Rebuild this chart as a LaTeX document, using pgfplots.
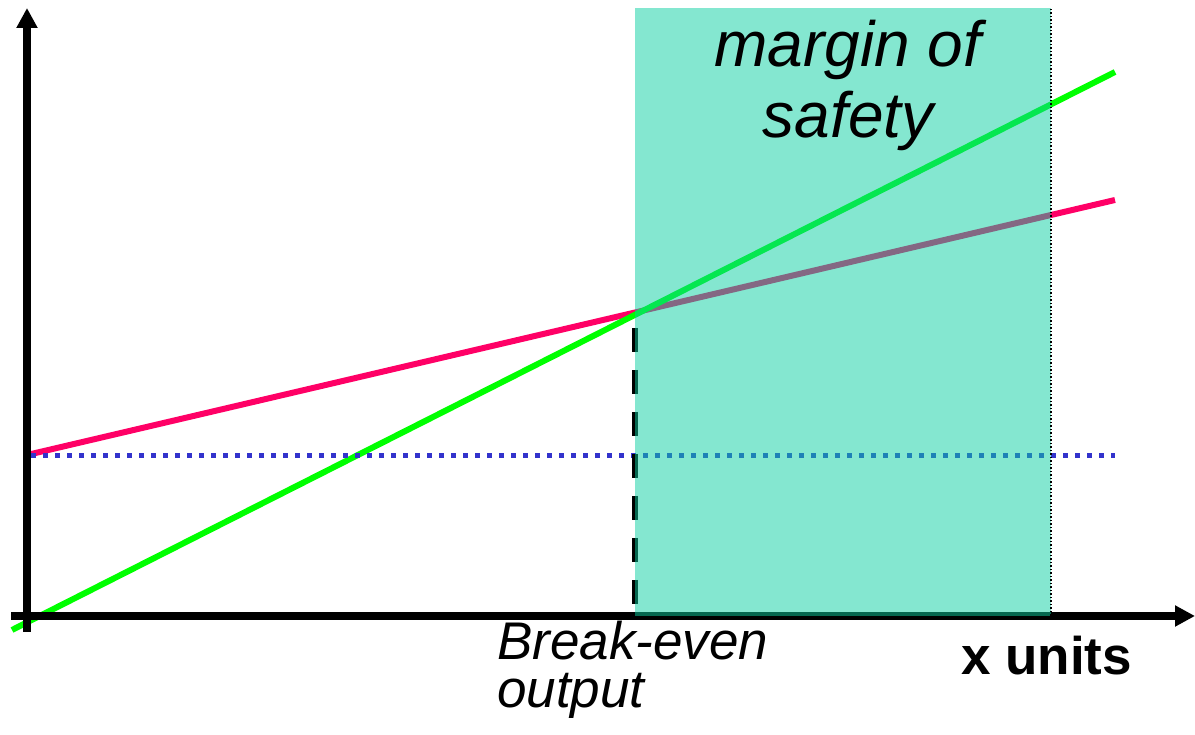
\documentclass[border=0pt]{standalone}
\usepackage{pgfplots}
\pgfplotsset{compat=1.18}
\usepackage{fontspec}
\setmainfont{Liberation Sans}
\usetikzlibrary{arrows.meta}
\definecolor{costred}{RGB}{255,0,102}
\definecolor{revgreen}{RGB}{0,255,0}
\definecolor{fixblue}{RGB}{51,51,204}
\definecolor{mosfill}{RGB}{10,208,161}
\begin{document}
\begin{tikzpicture}
\begin{axis}[
  scale only axis, width=1195pt, height=735pt,
  xmin=-27, xmax=1168, ymin=-119, ymax=616,
  hide axis, clip=false,
]
% total cost
\addplot[costred, line width=6pt, line cap=butt] coordinates {(0,161) (1088,416)};
% revenue
\addplot[revgreen, line width=6pt] coordinates {(-15,-14) (1088,544)};
% fixed cost
\addplot[fixblue, line width=5pt, dash pattern=on 5pt off 7pt] coordinates {(4,160) (1088,160)};
% break-even dashed
\addplot[black, line width=6pt, dash pattern=on 24pt off 18pt] coordinates {(608,288) (608,12)};
% axes
\addplot[black, line width=8pt, -{Triangle[length=20pt,width=20pt]}] coordinates {(0,-16) (0,608)};
\addplot[black, line width=8pt, -{Triangle[length=20pt,width=20pt]}] coordinates {(-16,0) (1168,0)};
% margin of safety area
\addplot[draw=none, fill=mosfill, fill opacity=0.5] coordinates {(608,0) (1024,0) (1024,608) (608,608)} -- cycle;
\addplot[black, line width=1.5pt, dash pattern=on 1.5pt off 2pt] coordinates {(1024,0) (1024,608)};
% labels
\node[anchor=base, inner sep=0pt, font=\fontsize{64}{71}\selectfont\itshape] at (axis cs:821,549) {margin of};
\node[anchor=base, inner sep=0pt, font=\fontsize{64}{71}\selectfont\itshape] at (axis cs:821,478) {safety};
\node[anchor=base west, inner sep=0pt, font=\fontsize{53}{53}\selectfont\itshape] at (axis cs:470,-44) {Break-even};
\node[anchor=base west, inner sep=0pt, font=\fontsize{53}{53}\selectfont\itshape] at (axis cs:470,-92) {output};
\node[anchor=base west, inner sep=0pt, font=\fontsize{53}{53}\selectfont\bfseries] at (axis cs:934,-59) {x units};
\end{axis}
\pgfresetboundingbox
\path (0,0) rectangle (1195pt,735pt);
\end{tikzpicture}
\end{document}
